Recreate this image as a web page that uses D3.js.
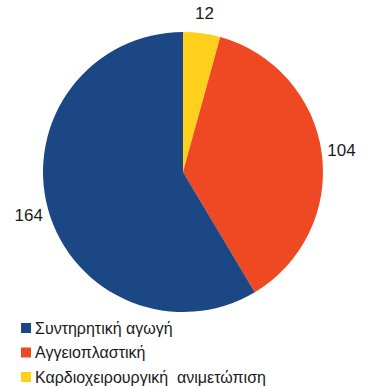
<!DOCTYPE html>
<html>
<head>
<meta charset="utf-8">
<script src="https://cdn.jsdelivr.net/npm/d3@7"></script>
<style>
  html, body { margin: 0; padding: 0; background: #fff; }
  svg { display: block; }
  text { font-family: "Liberation Sans", Arial, sans-serif; }
</style>
</head>
<body>
<svg id="chart" width="367" height="388"></svg>
<script>
// Treatment categories and patient counts
const categories = ["Καρδιοχειρουργική  ανιμετώπιση", "Αγγειοπλαστική", "Συντηρητική αγωγή"];
const values = [12, 104, 164];
const colors = ["#fdd11b", "#ee4923", "#1b4784"];
const legendOrder = ["Συντηρητική αγωγή", "Αγγειοπλαστική", "Καρδιοχειρουργική  ανιμετώπιση"];

const svg = d3.select("#chart");
const cx = 183, cy = 172, r = 140;

const color = d3.scaleOrdinal().domain(categories).range(colors);

const data = categories.map((c, i) => ({ category: c, value: values[i] }));
const pie = d3.pie().value(d => d.value).sort(null);
const arcs = pie(data);

const arc = d3.arc().innerRadius(0).outerRadius(r);
const labelArc = d3.arc().innerRadius(160).outerRadius(160);

const g = svg.append("g").attr("transform", `translate(${cx},${cy})`);

g.selectAll("path.slice")
  .data(arcs)
  .join("path")
  .attr("class", "slice")
  .attr("d", arc)
  .attr("fill", d => color(d.data.category));

g.selectAll("text.value")
  .data(arcs)
  .join("text")
  .attr("class", "value")
  .attr("transform", d => `translate(${labelArc.centroid(d)})`)
  .attr("text-anchor", "middle")
  .attr("dy", "0.35em")
  .attr("font-size", 17)
  .attr("fill", "#1a1a1a")
  .text(d => d.data.value);

// Legend
const legend = svg.append("g").attr("transform", "translate(21,328)");
const rows = legend.selectAll("g.row")
  .data(legendOrder)
  .join("g")
  .attr("class", "row")
  .attr("transform", (d, i) => `translate(0,${i * 24.5})`);

rows.append("rect")
  .attr("x", 0).attr("y", -5)
  .attr("width", 10).attr("height", 10)
  .attr("fill", d => color(d));

rows.append("text")
  .attr("x", 14)
  .attr("dy", "0.35em")
  .attr("font-size", 16)
  .attr("fill", "#1a1a1a")
  .style("white-space", "pre")
  .text(d => d);
</script>
</body>
</html>
